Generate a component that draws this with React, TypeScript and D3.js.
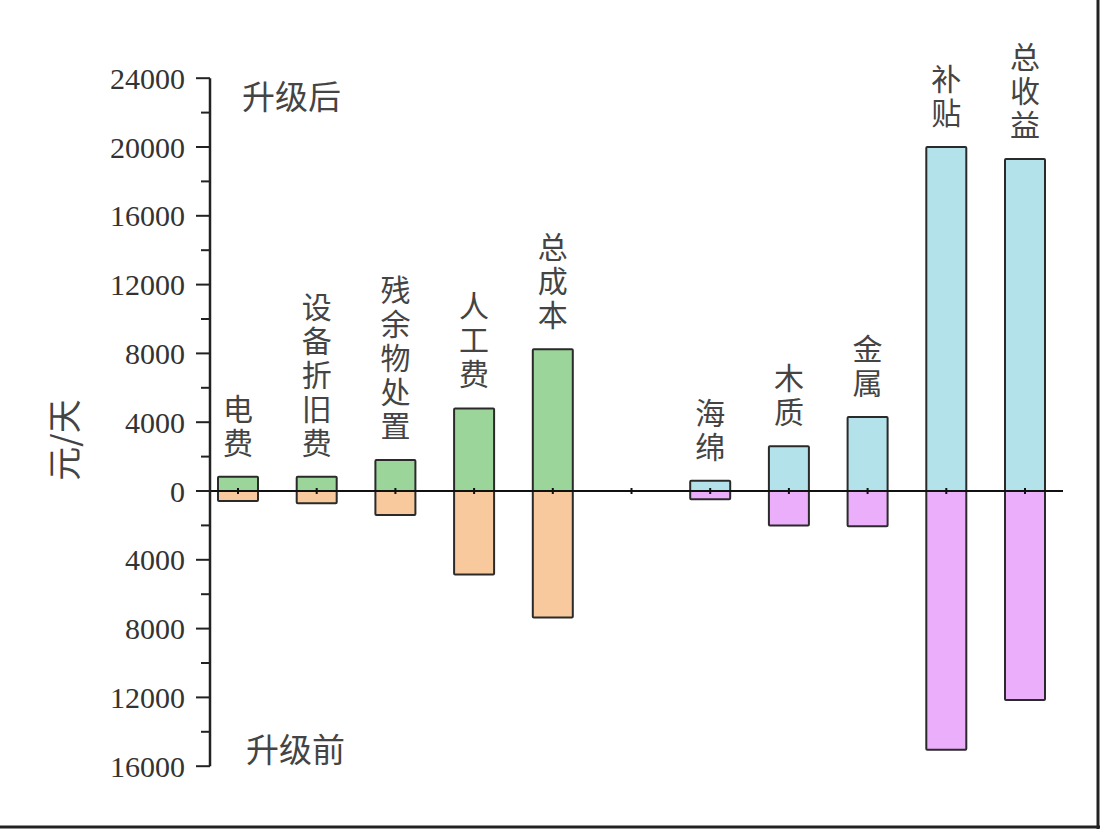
import React from "react";
import * as d3 from "d3";

const categories = ["电费", "设备折旧费", "残余物处置", "人工费", "总成本", "", "海绵", "木质", "金属", "补贴", "总收益"];
const afterValues = [830, 830, 1800, 4800, 8240, null, 600, 2600, 4300, 20000, 19300];
const beforeValues = [580, 715, 1400, 4850, 7350, null, 480, 2000, 2050, 15050, 12150];
const groupIndex = [0, 0, 0, 0, 0, -1, 1, 1, 1, 1, 1];
const yTicks = [-16000, -12000, -8000, -4000, 0, 4000, 8000, 12000, 16000, 20000, 24000];
const afterColors = ["#9bd59a", "#b4e2ea"];
const beforeColors = ["#f8c99c", "#eaaefa"];

const W = 1100;
const H = 829;

export default function App() {
  const y = d3.scaleLinear().domain([-16000, 24000]).range([766.2, 78.2]);
  const x = d3.scaleLinear().domain([0, 10]).range([238, 1025]);
  const axisX = 210;
  const axisRight = 1063;
  const barW = 40;
  const minorTicks = d3.range(-14000, 24000, 4000);
  const sans = "'Noto Sans CJK SC', 'Noto Sans', sans-serif";
  const serif = "'Liberation Serif', 'DejaVu Serif', serif";

  return (
    <div style={{ position: "absolute", left: 0, top: 0 }}>
      <svg width={W} height={H} style={{ display: "block", background: "#fff" }}>
        {/* bars */}
        {categories.map((c, i) => {
          const a = afterValues[i];
          const b = beforeValues[i];
          if (a == null || b == null) return null;
          const g = groupIndex[i];
          return (
            <g key={"bar" + i}>
              <rect x={x(i) - barW / 2} y={y(a)} width={barW} height={y(0) - y(a)} fill={afterColors[g]} stroke="#2a2a2a" strokeWidth={2} rx={1} />
              <rect x={x(i) - barW / 2} y={y(0)} width={barW} height={y(-b) - y(0)} fill={beforeColors[g]} stroke="#2a2a2a" strokeWidth={2} rx={1} />
            </g>
          );
        })}
        {/* category labels, stacked characters */}
        {categories.map((c, i) => {
          const a = afterValues[i];
          if (a == null || !c) return null;
          const chars = Array.from(c);
          const top = y(a);
          return (
            <g key={"lab" + i}>
              {chars.map((ch, k) => {
                const fromBottom = chars.length - 1 - k;
                return (
                  <text key={k} x={x(i)} y={top - 23 - fromBottom * 34} textAnchor="middle" fontFamily={sans} fontSize={30} fill="#444">
                    {ch}
                  </text>
                );
              })}
            </g>
          );
        })}
        {/* x axis line at zero */}
        <line x1={axisX} x2={axisRight} y1={y(0)} y2={y(0)} stroke="#111" strokeWidth={2} />
        {categories.map((c, i) => (
          <line key={"xt" + i} x1={x(i)} x2={x(i)} y1={y(0) - 3} y2={y(0) + 3} stroke="#111" strokeWidth={2} />
        ))}
        {/* y axis */}
        <line x1={axisX} x2={axisX} y1={y(24000)} y2={y(-16000)} stroke="#222" strokeWidth={2.5} />
        {yTicks.map((t) => (
          <g key={"yt" + t}>
            <line x1={axisX - 14} x2={axisX} y1={y(t)} y2={y(t)} stroke="#222" strokeWidth={2} />
            <text x={185} y={y(t)} dy="0.35em" textAnchor="end" fontFamily={serif} fontSize={30} fill="#333">
              {Math.abs(t)}
            </text>
          </g>
        ))}
        {minorTicks.map((t) => (
          <line key={"mt" + t} x1={axisX - 9} x2={axisX} y1={y(t)} y2={y(t)} stroke="#222" strokeWidth={2} />
        ))}
        {/* axis title */}
        <text transform={`translate(77,440) rotate(-90)`} textAnchor="middle" fontFamily={sans} fontSize={34} fill="#444">
          元/天
        </text>
        <text x={242} y={109} fontFamily={sans} fontSize={33} fill="#444">升级后</text>
        <text x={246} y={762} fontFamily={sans} fontSize={33} fill="#444">升级前</text>
        {/* frame edges */}
        <line x1={0} x2={W} y1={H - 2} y2={H - 2} stroke="#222" strokeWidth={3} />
        <line x1={W - 2} x2={W - 2} y1={0} y2={H} stroke="#222" strokeWidth={3} />
      </svg>
    </div>
  );
}
